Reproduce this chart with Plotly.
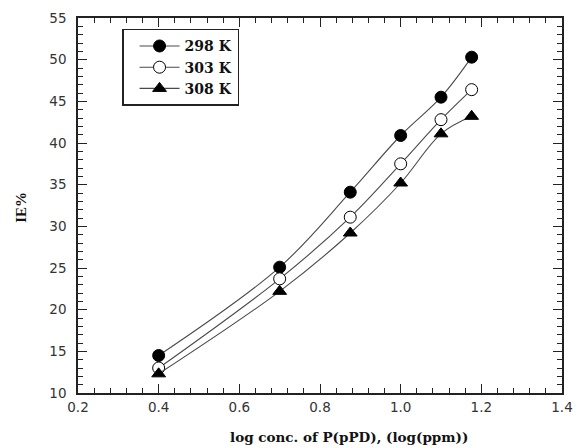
import plotly.graph_objects as go

log_conc = [0.4, 0.7, 0.875, 1.0, 1.1, 1.176]
ie_298 = [14.5, 25.1, 34.1, 40.9, 45.5, 50.3]
ie_303 = [13.0, 23.7, 31.1, 37.5, 42.8, 46.4]
ie_308 = [12.3, 22.2, 29.2, 35.2, 41.1, 43.2]
series_names = ["298 K", "303 K", "308 K"]
x_title = "log conc. of P(pPD), (log(ppm))"
y_title = "IE%"

line_col = "#4a4a4a"
fig = go.Figure()
fig.add_trace(go.Scatter(x=log_conc, y=ie_298, name=series_names[0], mode="lines+markers",
                         line=dict(color=line_col, width=1.1, shape="spline"),
                         marker=dict(symbol="circle", size=12, color="black",
                                     line=dict(color="black", width=1))))
fig.add_trace(go.Scatter(x=log_conc, y=ie_303, name=series_names[1], mode="lines+markers",
                         line=dict(color=line_col, width=1.1, shape="spline"),
                         marker=dict(symbol="circle", size=12, color="white",
                                     line=dict(color="black", width=1))))
fig.add_trace(go.Scatter(x=log_conc, y=ie_308, name=series_names[2], mode="lines+markers",
                         line=dict(color=line_col, width=1.1, shape="spline"),
                         marker=dict(symbol="triangle-up", size=12, color="black",
                                     line=dict(color="black", width=1))))

tickfont = dict(family="DejaVu Sans", size=13.5, color="#333333")
titlefont = dict(family="DejaVu Serif", size=13.5, color="#111111", weight="bold")

fig.update_layout(
    width=583, height=448,
    margin=dict(l=78, r=10, t=17, b=55),
    paper_bgcolor="white", plot_bgcolor="white",
    showlegend=True,
    legend=dict(x=0.091, y=0.971, xanchor="left", yanchor="top",
                bordercolor="#222222", borderwidth=1.5, bgcolor="white",
                font=dict(family="DejaVu Serif", size=14, color="#111111", weight="bold"),
                tracegroupgap=0, indentation=11, itemwidth=40),
    xaxis=dict(range=[0.2, 1.4], dtick=0.2, tick0=0.2, tickformat=".1f",
               showgrid=False, zeroline=False,
               showline=True, linecolor="#222222", linewidth=1.5, mirror="ticks",
               ticks="inside", ticklen=9, tickcolor="#222222", tickwidth=1.2,
               minor=dict(dtick=0.04, ticks="inside", ticklen=5, tickcolor="#222222", tickwidth=1),
               tickfont=tickfont, ticklabelstandoff=1),
    yaxis=dict(range=[10, 55], dtick=5, tick0=10,
               showgrid=False, zeroline=False,
               showline=True, linecolor="#222222", linewidth=1.5, mirror="ticks",
               ticks="inside", ticklen=9, tickcolor="#222222", tickwidth=1.2,
               minor=dict(dtick=1, ticks="inside", ticklen=5, tickcolor="#222222", tickwidth=1),
               tickfont=tickfont, ticklabelstandoff=7),
    annotations=[
        dict(text=x_title, xref="paper", yref="paper", x=0.56, y=-0.117,
             xanchor="center", yanchor="middle", showarrow=False, font=titlefont),
        dict(text=y_title, xref="paper", yref="paper", x=-0.117, y=0.495,
             xanchor="center", yanchor="middle", showarrow=False, textangle=-90,
             font=dict(family="Liberation Serif", size=15, color="#111111", weight="bold")),
    ],
)

fig.write_html("out.html")
